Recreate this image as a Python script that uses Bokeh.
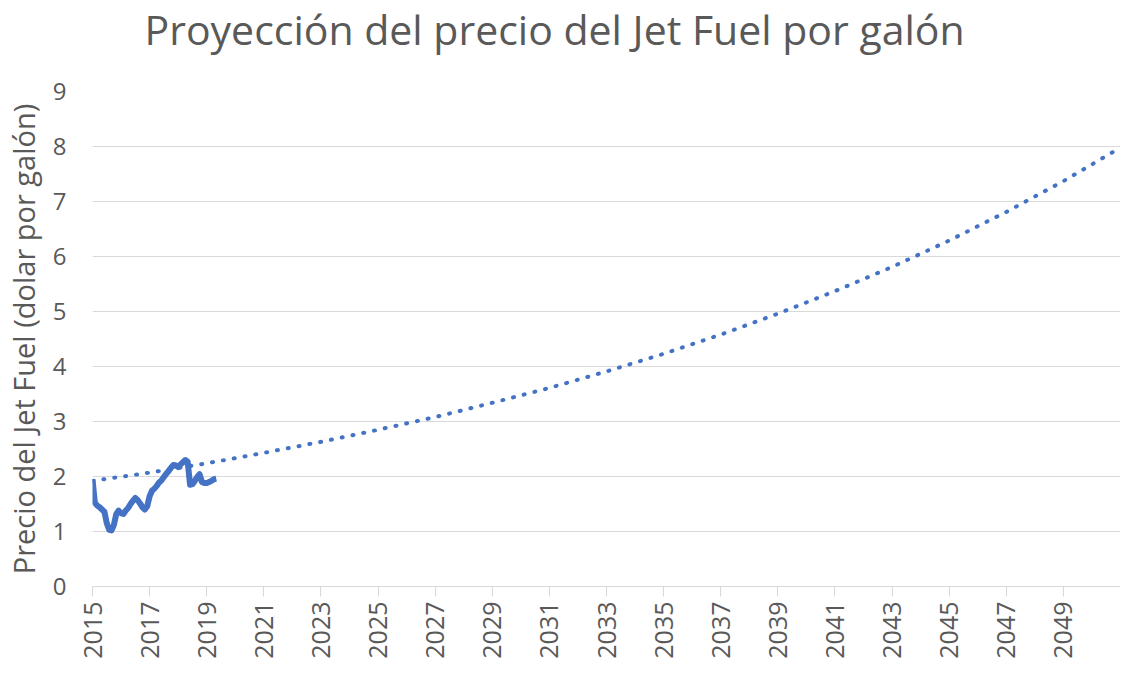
import math
from bokeh.plotting import figure
from bokeh.models import FixedTicker, Range1d, Title
from bokeh.embed import file_html
from bokeh.resources import INLINE

# Historical monthly jet fuel price (USD per gallon), Jan 2015 .. May 2019
hist_prices = [
    1.95, 1.52, 1.47, 1.44, 1.40, 1.36, 1.15, 1.03, 1.02, 1.12, 1.32, 1.38,   # 2015
    1.33, 1.32, 1.38, 1.43, 1.50, 1.56, 1.61, 1.57, 1.51, 1.44, 1.40, 1.46,   # 2016
    1.64, 1.74, 1.78, 1.83, 1.89, 1.93, 1.99, 2.05, 2.10, 2.16, 2.21, 2.20,   # 2017
    2.17, 2.22, 2.26, 2.30, 2.27, 1.85, 1.86, 1.92, 1.99, 2.04, 1.90, 1.88,   # 2018
    1.88, 1.90, 1.92, 1.95, 1.96,                                             # 2019
]
hist_start_year = 2015
hist_x = [hist_start_year + i / 12 for i in range(len(hist_prices))]

# Projected trend values
trend_years = [2015, 2017, 2019, 2021, 2023, 2025, 2027, 2029, 2031, 2033,
               2035, 2037, 2039, 2041, 2043, 2045, 2047, 2049, 2051]
trend_prices = [1.92, 2.07, 2.24, 2.43, 2.63, 2.85, 3.08, 3.34, 3.61, 3.91,
                4.23, 4.58, 4.96, 5.37, 5.81, 6.29, 6.81, 7.37, 7.98]

x_ticks = list(range(2015, 2050, 2))
x_end_tick = [2051]
y_ticks = list(range(0, 10))

TITLE = "Proyección del precio del Jet Fuel por galón"
Y_LABEL = "Precio del Jet Fuel (dolar por galón)"

TEXT = "#595959"
GRID = "#D9D9D9"
BLUE = "#4472C4"
FONT = "Open Sans"

p = figure(width=1120, height=661, output_backend="svg", toolbar_location=None,
           x_range=Range1d(2015, 2051), y_range=Range1d(0, 9), title=None,
           min_border_left=91, min_border_right=0, min_border_top=90, min_border_bottom=60)

# spacer panel (closest to the frame), then the real title above it
p.add_layout(Title(text=" ", text_font_size="10px", standoff=20), "above")
p.add_layout(Title(text=TITLE, text_font=FONT, text_font_size="41px",
                   text_font_style="normal", text_color=TEXT, align="left",
                   vertical_align="top", standoff=0, offset=52), "above")

p.outline_line_color = None
p.background_fill_color = "white"
p.border_fill_color = "white"

p.xgrid.grid_line_color = None
p.ygrid.grid_line_color = GRID
p.ygrid.grid_line_width = 1
p.ygrid.ticker = FixedTicker(ticks=y_ticks)

p.xaxis.ticker = FixedTicker(ticks=x_ticks, minor_ticks=x_end_tick)
p.xaxis.major_label_orientation = math.pi / 2
p.xaxis.major_label_text_font = FONT
p.xaxis.major_label_text_font_size = "25px"
p.xaxis.major_label_text_color = TEXT
p.xaxis.axis_line_color = GRID
p.xaxis.major_tick_line_color = GRID
p.xaxis.major_tick_out = 10
p.xaxis.major_tick_in = 0
p.xaxis.minor_tick_line_color = GRID
p.xaxis.minor_tick_out = 10
p.xaxis.minor_tick_in = 0
p.xaxis.major_label_standoff = 5

p.yaxis.ticker = FixedTicker(ticks=y_ticks)
p.yaxis.axis_line_color = None
p.yaxis.major_tick_line_color = None
p.yaxis.minor_tick_line_color = None
p.yaxis.major_label_text_font = FONT
p.yaxis.major_label_text_font_size = "24px"
p.yaxis.major_label_text_color = TEXT
p.yaxis.major_label_standoff = 20
p.yaxis.axis_label = Y_LABEL
p.yaxis.axis_label_text_font = FONT
p.yaxis.axis_label_text_font_size = "29px"
p.yaxis.axis_label_text_font_style = "normal"
p.yaxis.axis_label_text_color = TEXT
p.yaxis.axis_label_standoff = 7

p.line(trend_years, trend_prices, line_color=BLUE, line_width=4,
       line_dash="1 10", line_cap="round")
p.line(hist_x, hist_prices, line_color=BLUE, line_width=6, line_join="round")

open("out.html", "w").write(file_html(p, INLINE))
